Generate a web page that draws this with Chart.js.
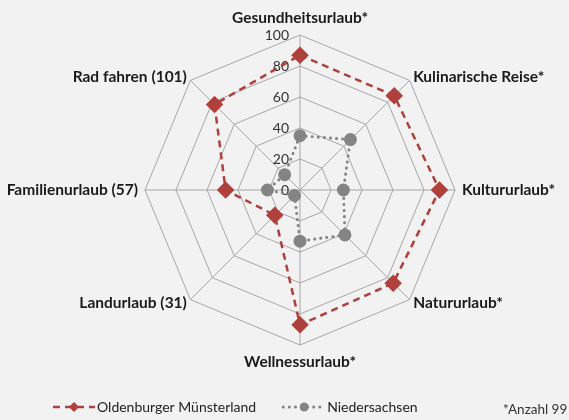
<!DOCTYPE html>
<html>
<head>
<meta charset="utf-8">
<script src="https://cdn.jsdelivr.net/npm/chart.js@4"></script>
<style>
  body { margin: 0; background: #f2f2f2; }
  #wrap { position: relative; width: 569px; height: 420px; overflow: hidden; }
  #note { position: absolute; left: 503px; top: 401px; font: 13.5px Lato, sans-serif; color: #333; white-space: nowrap; }
</style>
</head>
<body>
<div id="wrap">
  <canvas id="netz" width="569" height="420"></canvas>
  <div id="note">*Anzahl 99</div>
</div>
<script>
const kategorien = ['Gesundheitsurlaub*', 'Kulinarische Reise*', 'Kultururlaub*', 'Natururlaub*',
  'Wellnessurlaub*', 'Landurlaub (31)', 'Familienurlaub (57)', 'Rad fahren (101)'];
const oldenburg = [87, 86, 90, 85, 87, 23, 48, 78];
const niedersachsen = [35, 46, 28, 41, 33, 5, 21, 14];
const skala = { min: 0, max: 100, step: 20 };

const rot = '#b0403c';
const grau = '#848484';

// Tick-Beschriftung links neben der senkrechten Achse
const tickLabels = {
  id: 'tickLabels',
  beforeDatasetsDraw(chart) {
    const r = chart.scales.r;
    const ctx = chart.ctx;
    ctx.save();
    ctx.font = '14px Lato';
    ctx.fillStyle = '#333';
    ctx.textAlign = 'right';
    ctx.textBaseline = 'middle';
    r.ticks.forEach(t => {
      const d = r.getDistanceFromCenterForValue(t.value);
      ctx.fillText(String(t.value), r.xCenter - 11, r.yCenter - d);
    });
    ctx.restore();
  }
};

// Achsenbeschriftung wie in Excel: schraege Beschriftungen mittig an der Ecke
const achsenText = {
  id: 'achsenText',
  afterDraw(chart) {
    const r = chart.scales.r;
    const ctx = chart.ctx;
    ctx.save();
    ctx.font = 'bold 15.5px Lato';
    ctx.fillStyle = '#1a1a1a';
    ctx.textBaseline = 'middle';
    chart.data.labels.forEach((txt, i) => {
      const a = r.getIndexAngle(i);
      const dx = Math.sin(a), dy = -Math.cos(a);
      const schraeg = Math.abs(dx) > 0.1 && Math.abs(dy) > 0.1;
      const p = r.getPointPosition(i, r.drawingArea + (schraeg ? 5 : 7));
      let y = p.y;
      if (Math.abs(dx) < 0.1) y += dy * 10;
      ctx.textAlign = Math.abs(dx) < 0.1 ? 'center' : (dx > 0 ? 'left' : 'right');
      ctx.fillText(txt, p.x, y);
    });
    ctx.restore();
  }
};

// Legende wie im Original (Linie mit Marker)
const legende = {
  id: 'legende',
  afterDraw(chart) {
    const ctx = chart.ctx;
    const y = 407;
    let x = 53;
    ctx.save();
    ctx.font = '14px Lato';
    ctx.textBaseline = 'middle';
    chart.data.datasets.forEach(ds => {
      ctx.strokeStyle = ds.borderColor;
      ctx.lineWidth = ds.borderWidth;
      ctx.lineCap = ds.borderCapStyle || 'butt';
      ctx.setLineDash(ds.borderDash);
      ctx.beginPath();
      ctx.moveTo(x, y);
      ctx.lineTo(x + 42, y);
      ctx.stroke();
      ctx.setLineDash([]);
      ctx.fillStyle = ds.pointBackgroundColor;
      ctx.beginPath();
      if (ds.pointStyle === 'rectRot') {
        const s = 5;
        ctx.moveTo(x + 21, y - s); ctx.lineTo(x + 21 + s, y);
        ctx.lineTo(x + 21, y + s); ctx.lineTo(x + 21 - s, y);
        ctx.closePath();
      } else {
        ctx.arc(x + 21, y, 4.5, 0, Math.PI * 2);
      }
      ctx.fill();
      ctx.fillStyle = '#222';
      ctx.fillText(ds.label, x + 44, y);
      x += 44 + ctx.measureText(ds.label).width + 27;
    });
    ctx.restore();
  }
};

new Chart(document.getElementById('netz'), {
  type: 'radar',
  data: {
    labels: kategorien,
    datasets: [{
      label: 'Oldenburger Münsterland',
      data: oldenburg,
      borderColor: rot,
      borderWidth: 2.5,
      borderDash: [7, 5],
      pointStyle: 'rectRot',
      pointRadius: 7,
      pointBackgroundColor: rot,
      pointBorderColor: rot,
      fill: false,
      tension: 0
    }, {
      label: 'Niedersachsen',
      data: niedersachsen,
      borderColor: grau,
      borderWidth: 3,
      borderDash: [0.1, 6],
      borderCapStyle: 'round',
      pointStyle: 'circle',
      pointRadius: 5,
      pointBackgroundColor: grau,
      pointBorderColor: grau,
      fill: false,
      tension: 0
    }]
  },
  options: {
    responsive: false,
    animation: false,
    // Netz sitzt wie im Original: Mitte (300,190), Radius 155
    layout: { padding: { left: 145, right: 114, top: 35, bottom: 75 } },
    plugins: {
      legend: { display: false },
      tooltip: { enabled: false }
    },
    scales: {
      r: {
        min: skala.min,
        max: skala.max,
        ticks: { stepSize: skala.step, display: false },
        grid: { color: '#a6a6a6', lineWidth: 1 },
        angleLines: { color: '#a6a6a6', lineWidth: 1 },
        pointLabels: { display: false }
      }
    }
  },
  plugins: [tickLabels, achsenText, legende]
});
</script>
</body>
</html>
